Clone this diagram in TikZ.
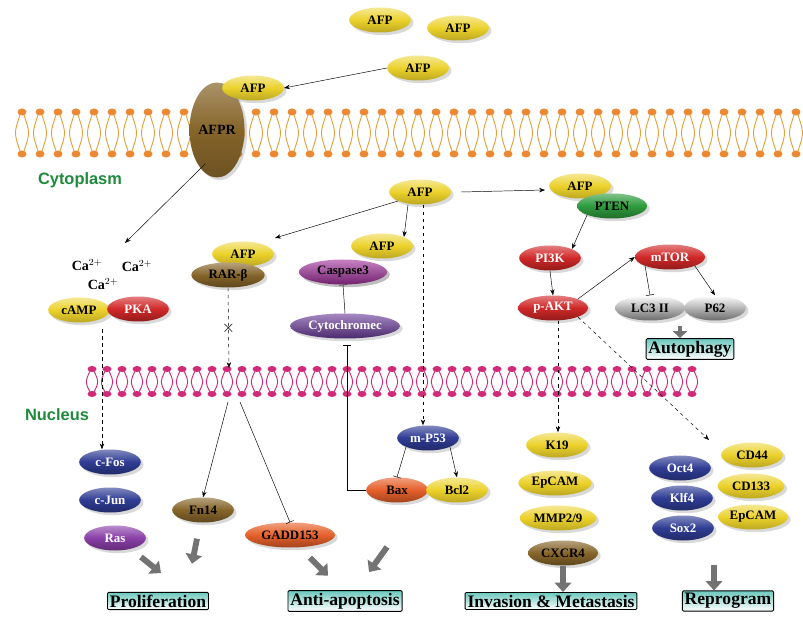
\documentclass[tikz,border=0pt]{standalone}
\usepackage{fontspec}
\setmainfont{Liberation Serif}
\setsansfont{Liberation Sans}
\usetikzlibrary{shapes.geometric,arrows.meta,shadows,positioning}
\definecolor{afpyel}{HTML}{EBD12A}
\definecolor{akred}{HTML}{D02828}
\definecolor{pblue}{HTML}{2F3C94}
\definecolor{ppurp}{HTML}{8A3FA8}
\definecolor{pbrown}{HTML}{86652A}
\definecolor{porange}{HTML}{E5602A}
\definecolor{pgreen}{HTML}{2E9B3C}
\definecolor{pgray}{HTML}{B4B4B4}
\definecolor{pmag}{HTML}{A22E9C}
\definecolor{pcyto}{HTML}{6B3A9C}
\definecolor{lipo}{HTML}{E8A03A}
\definecolor{lipn}{HTML}{D02A78}
\definecolor{labgreen}{HTML}{1E8A3A}
\definecolor{boxteal}{HTML}{6CC8BE}
\begin{document}
\begin{tikzpicture}[x=0.03cm,y=-0.03cm,
  mol/.style={ellipse,draw=none,inner sep=0pt,minimum width=1.85cm,minimum height=0.75cm,
    font=\bfseries\fontsize{11}{11}\selectfont,drop shadow={opacity=0.3}},
  yel/.style={mol,top color=afpyel!50!white,bottom color=afpyel!80!black,middle color=afpyel},
  red/.style={mol,top color=akred!60!white,bottom color=akred!70!black,middle color=akred,text=white},
  blu/.style={mol,top color=pblue!60!white,bottom color=pblue!70!black,middle color=pblue,text=white},
  pur/.style={mol,top color=ppurp!60!white,bottom color=ppurp!70!black,middle color=ppurp,text=white},
  brn/.style={mol,top color=pbrown!60!white,bottom color=pbrown!70!black,middle color=pbrown},
  org/.style={mol,top color=porange!60!white,bottom color=porange!70!black,middle color=porange},
  grn/.style={mol,top color=pgreen!60!white,bottom color=pgreen!70!black,middle color=pgreen},
  gry/.style={mol,top color=white,bottom color=pgray!60!black,middle color=pgray},
  outcome/.style={draw,thick,rounded corners=1pt,top color=boxteal,bottom color=white,
    inner sep=2pt,font=\bfseries\fontsize{15}{15}\selectfont},
  region/.style={font=\sffamily\bfseries\fontsize{14}{14}\selectfont,text=labgreen},
  ion/.style={font=\bfseries\fontsize{12}{12}\selectfont},
  arr/.style={-{Stealth[length=5pt]},thin},
  darr/.style={arr,dashed},
  inh/.style={-{Bar[width=7pt]},thin},
  big/.style={line width=5pt,draw=black!55,-{Triangle[length=8pt,width=14pt]}}]
\useasboundingbox (0,0) rectangle (803,623);
% cell membrane
\foreach \x in {22,40,...,796} {
  \draw[lipo,thick] (\x-2,115) .. controls (\x-8,133) .. (\x-2,151);
  \draw[lipo,thick] (\x+2,115) .. controls (\x+8,133) .. (\x+2,151);
  \fill[lipo!85!red] (\x,112) ellipse (4.5 and 3.5);
  \fill[lipo!85!red] (\x,154) ellipse (4.5 and 3.5);
}
% nuclear membrane
\foreach \x in {92,107,...,695} {
  \draw[lipn,thick] (\x-2,371) .. controls (\x-7,382) .. (\x-2,392);
  \draw[lipn,thick] (\x+2,371) .. controls (\x+7,382) .. (\x+2,392);
  \fill[lipn] (\x,369) ellipse (4.5 and 3);
  \fill[lipn] (\x,394) ellipse (4.5 and 3);
}
% receptor
\node[ellipse,minimum width=1.65cm,minimum height=2.85cm,inner sep=0pt,
  top color=pbrown!70!white,bottom color=pbrown!80!black,middle color=pbrown,
  drop shadow={opacity=0.3},font=\bfseries\fontsize{12}{12}\selectfont] (afpr) at (217,130) {AFPR};
\node[yel] (afpb) at (253,88) {AFP};
\node[yel] (afp1) at (380,20) {AFP};
\node[yel] (afp2) at (458,28) {AFP};
\node[yel] (afp3) at (418,68) {AFP};
\node[region] (cyto) at (80,180) {Cytoplasm};
\node[region] (nuc) at (57,415) {Nucleus};
% cytoplasm
\node[yel] (afpc) at (420,192) {AFP};
\node[yel] (afpp) at (580,186) {AFP};
\node[grn,minimum width=2.1cm] (pten) at (612,206) {PTEN};
\node[ion] (ca1) at (87,265) {Ca$^{2+}$};
\node[ion] (ca2) at (137,266) {Ca$^{2+}$};
\node[ion] (ca3) at (103,284) {Ca$^{2+}$};
\node[yel] (camp) at (79,310) {cAMP};
\node[red] (pka) at (138,309) {PKA};
\node[yel] (afpr2) at (243,254) {AFP};
\node[brn,minimum width=2.2cm] (rar) at (228,275) {RAR-β};
\node[yel] (afpk) at (382,246) {AFP};
\node[mol,pur,top color=pmag!60!white,middle color=pmag,bottom color=pmag!70!black,text=black,
  minimum width=2.65cm] (casp) at (343,272) {Caspase3};
\node[pur,top color=pcyto!60!white,middle color=pcyto,bottom color=pcyto!70!black,
  minimum width=3.3cm] (cytc) at (345,326) {Cytochromec};
\node[red] (pi3k) at (550,258) {PI3K};
\node[red,minimum width=2.1cm] (pakt) at (553,308) {p-AKT};
\node[red,minimum width=2.1cm] (mtor) at (670,257) {mTOR};
\node[gry,minimum width=2.1cm] (lc3) at (650,308) {LC3 II};
\node[gry] (p62) at (715,308) {P62};
\node[outcome] (autoph) at (690,349) {Autophagy};
% nucleus
\node[blu] (cfos) at (110,462) {c-Fos};
\node[blu] (cjun) at (110,500) {c-Jun};
\node[pur] (ras) at (115,538) {Ras};
\node[brn] (fn14) at (203,510) {Fn14};
\node[org,minimum width=2.7cm] (gadd) at (290,535) {GADD153};
\node[blu] (mp53) at (428,438) {m-P53};
\node[org] (bax) at (397,490) {Bax};
\node[yel] (bcl2) at (457,490) {Bcl2};
\node[yel] (k19) at (557,445) {K19};
\node[yel,minimum width=2.2cm] (epcam1) at (555,483) {EpCAM};
\node[yel,minimum width=2.3cm] (mmp) at (558,518) {MMP2/9};
\node[brn,minimum width=2.1cm] (cxcr4) at (563,553) {CXCR4};
\node[blu] (oct4) at (680,468) {Oct4};
\node[blu] (klf4) at (682,498) {Klf4};
\node[blu] (sox2) at (683,528) {Sox2};
\node[yel] (cd44) at (752,455) {CD44};
\node[yel,minimum width=2cm] (cd133) at (751,486) {CD133};
\node[yel,minimum width=2.1cm] (epcam2) at (753,517) {EpCAM};
\node[outcome] (prolif) at (158,601) {Proliferation};
\node[outcome] (antiap) at (345,601) {Anti-apoptosis};
\node[outcome] (invas) at (551,601) {Invasion \& Metastasis};
\node[outcome] (reprog) at (728,601) {Reprogram};
% points on the membranes
\coordinate (m1) at (125,243);
\coordinate (m2) at (275,238);
\coordinate (m3) at (545,190);
\coordinate (n1) at (229,368);
\coordinate (n2) at (228,402);
\coordinate (n3) at (240,402);
\coordinate (n4) at (709,440);
\coordinate (k1) at (347,345);
\coordinate (k2) at (347,490);
% connectors
\draw[arr] (afp3.west) -- (afpb.east);
\draw[arr] (afpr.south west) ++(8,0) coordinate (r1) (r1) -- (m1);
\draw[arr] (afpc.south west) -- (m2);
\draw[arr] (afpc.south) ++(-12,0) coordinate (c1) (c1) -- (afpk.north east);
\draw[arr] (afpc.east) ++(10,0) coordinate (c2) (c2) -- (m3);
\draw[darr] (afpc.south) ++(3,0) coordinate (c3) (c3) -- (mp53.north -| c3);
\draw[darr] (camp.south east) ++(1,10) coordinate (c4) (c4) -- (cfos.north -| c4);
\draw[darr] (rar.south) -- (n1) node[pos=0.5,font=\Large] {$\times$};
\draw[inh] (cytc.north) -- (casp.south);
\draw (bax.west) -- (k2);
\draw[inh] (k2) -- (k1);
\draw[arr] (n2) -- (fn14.north);
\draw[inh] (n3) -- (gadd.north);
\draw[inh] (mp53.south west) -- (bax.north);
\draw[arr] (mp53.south east) -- (bcl2.north);
\draw[arr] (pten.south west) -- (pi3k.north east);
\draw[arr] (pi3k.south) -- (pakt.north);
\draw[arr] (pakt.north east) -- (mtor.west);
\draw[inh] (mtor.south west) -- (lc3.north);
\draw[arr] (mtor.south east) -- (p62.north);
\draw[darr] (pakt.south) ++(5,0) coordinate (c5) (c5) -- (k19.north -| c5);
\draw[darr] (pakt.south east) -- (n4);
% outcome arrows
\draw[big] (ras.south east) ++(4,10) coordinate (g1) (g1) -- ++(20,16);
\draw[big] (fn14.south) ++(-6,16) coordinate (g2) (g2) -- ++(-5,25);
\draw[big] (gadd.south) ++(20,10) coordinate (g3) (g3) -- ++(18,18);
\draw[big] (bcl2.south west) ++(-48,48) coordinate (g4) (g4) -- ++(-18,25);
\draw[big] (cxcr4.south) -- (invas.north -| cxcr4.south);
\draw[big] (sox2.south) ++(31,24) coordinate (g5) (g5) -- (reprog.north -| g5);
\draw[big,line width=4pt,-{Triangle[length=6pt,width=12pt]}] (p62.south) ++(-35,5) coordinate (g6) (g6) -- (autoph.north -| g6);
\end{tikzpicture}
\end{document}
